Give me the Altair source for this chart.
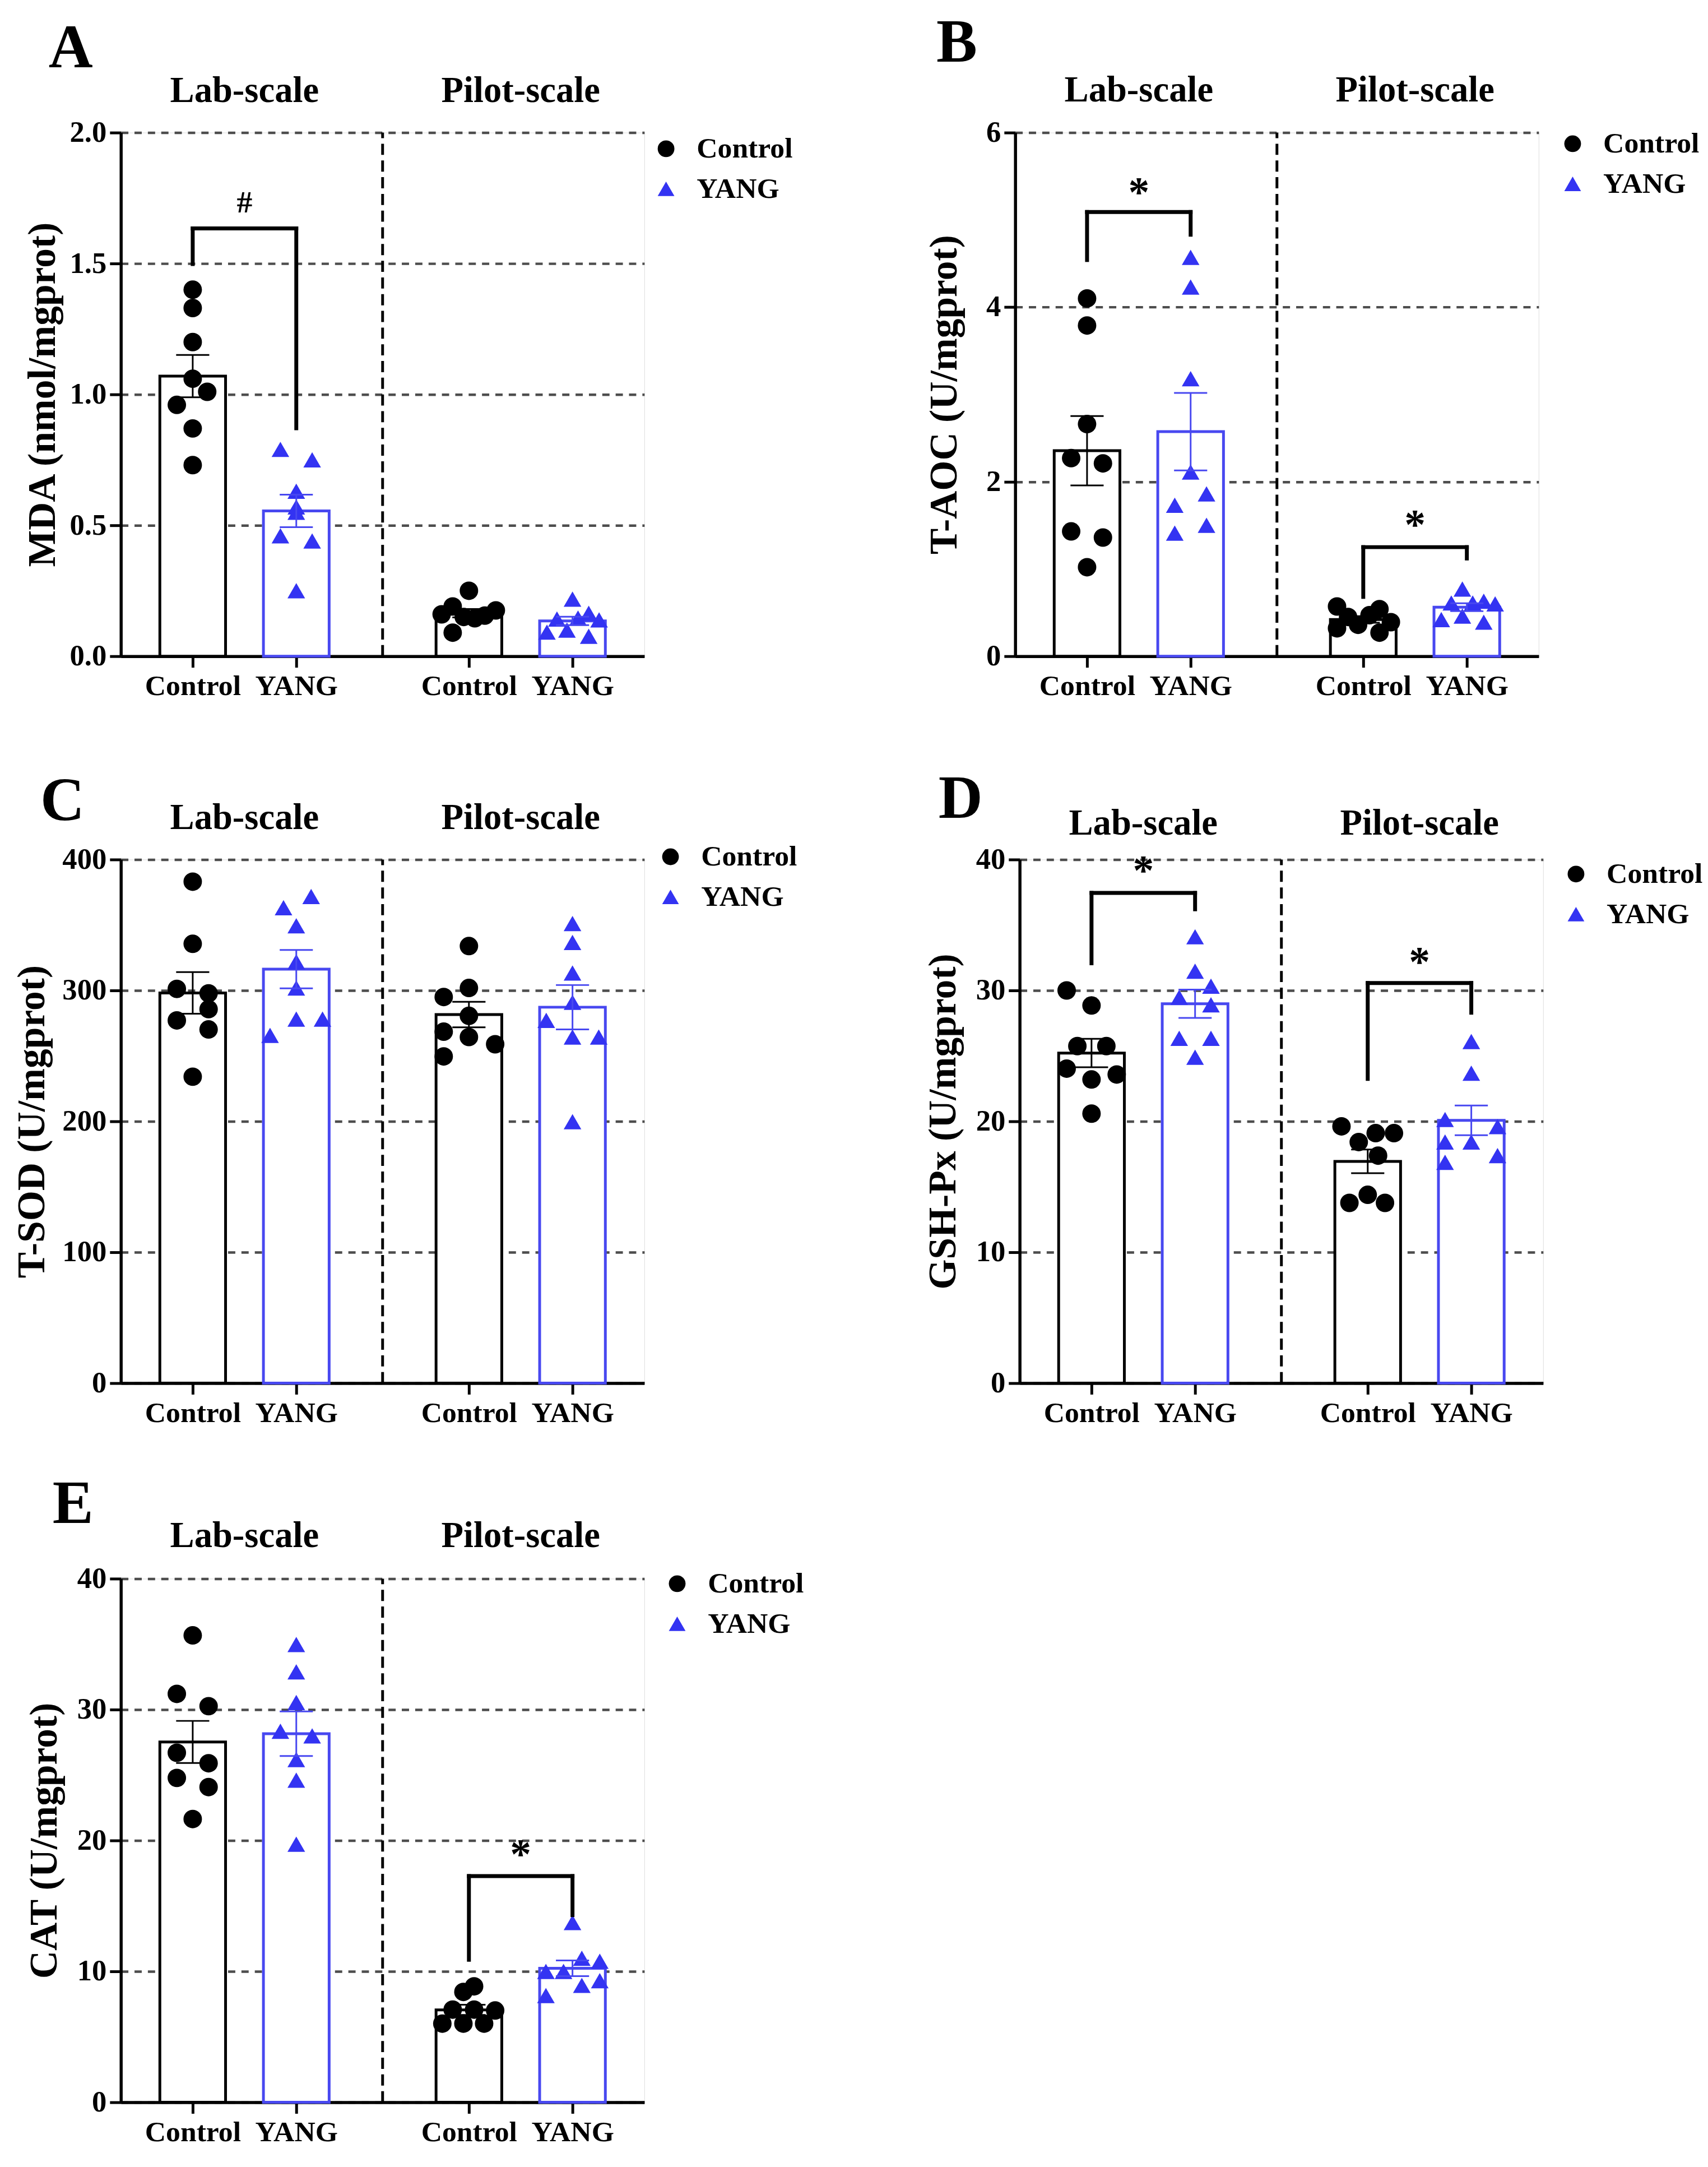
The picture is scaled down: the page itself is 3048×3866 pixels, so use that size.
import altair as alt
import pandas as pd

FONT = "Liberation Serif"
BLACK = "#000000"
BLUE_PT = "#3333f2"
BLUE_LN = "#4848f0"

GROUPS = ["Control", "YANG"]
SCALE_NAMES = ["Lab-scale", "Pilot-scale"]
POS = {"Lab-scale": {"Control": 2, "YANG": 5}, "Pilot-scale": {"Control": 10, "YANG": 13}}

# ---------------- Panel A : MDA ----------------
A_lab_ctrl = [1.40, 1.33, 1.20, 1.06, 1.01, 0.96, 0.87, 0.73]
A_lab_ctrl_dx = [0, 0, 0, 0, 0.42, -0.46, 0, 0]
A_lab_yang = [0.79, 0.75, 0.63, 0.57, 0.55, 0.46, 0.44, 0.25]
A_lab_yang_dx = [-0.46, 0.46, 0, 0, 0, -0.46, 0.46, 0]
A_pil_ctrl = [0.25, 0.19, 0.16, 0.15, 0.145, 0.155, 0.175, 0.09]
A_pil_ctrl_dx = [0, -0.47, -0.79, -0.15, 0.17, 0.46, 0.78, -0.47]
A_pil_yang = [0.218, 0.142, 0.146, 0.164, 0.139, 0.092, 0.10, 0.076]
A_pil_yang_dx = [0, -0.45, 0.16, 0.47, 0.77, -0.74, -0.16, 0.47]
A_br_x1 = [2]
A_br_x2 = [5]
A_br_top = [1.634]
A_br_left = [1.498]
A_br_right = [0.871]
A_br_label = ["#"]
A_br_label_y = [1.716]

# ---------------- Panel B : T-AOC ----------------
B_lab_ctrl = [4.10, 3.79, 2.66, 2.27, 2.21, 1.43, 1.36, 1.02]
B_lab_ctrl_dx = [0, 0, 0, -0.46, 0.46, -0.46, 0.46, 0]
B_lab_yang = [4.57, 4.23, 3.18, 2.11, 1.86, 1.73, 1.50, 1.41]
B_lab_yang_dx = [0, 0, 0, 0, 0.46, -0.46, 0.46, -0.46]
B_pil_ctrl = [0.57, 0.32, 0.45, 0.36, 0.47, 0.54, 0.27, 0.39]
B_pil_ctrl_dx = [-0.76, -0.76, -0.44, -0.15, 0.18, 0.47, 0.47, 0.80]
B_pil_yang = [0.77, 0.61, 0.61, 0.63, 0.60, 0.42, 0.46, 0.39]
B_pil_yang_dx = [-0.13, -0.45, 0.17, 0.49, 0.82, -0.74, -0.13, 0.49]
B_br_x1 = [2, 10]
B_br_x2 = [5, 13]
B_br_top = [5.09, 1.25]
B_br_left = [4.54, 0.68]
B_br_right = [4.83, 1.12]
B_br_label = ["*", "*"]
B_br_label_y = [5.32, 1.51]

# ---------------- Panel C : T-SOD ----------------
C_lab_ctrl = [383.1, 335.6, 301.2, 297.8, 277.1, 285.7, 270.2, 234.1]
C_lab_ctrl_dx = [0, 0, -0.46, 0.46, -0.46, 0.46, 0.46, 0]
C_lab_yang = [371.8, 363.2, 349.4, 321.9, 301.9, 278.1, 278.1, 265.7]
C_lab_yang_dx = [0.43, -0.37, 0, 0, 0, 0, 0.76, -0.76]
C_pil_ctrl = [333.9, 301.9, 295.0, 280.6, 268.5, 264.4, 258.9, 249.6]
C_pil_ctrl_dx = [0, 0, -0.73, 0, -0.73, 0, 0.76, -0.73]
C_pil_yang = [351.1, 336.7, 313.3, 290.9, 277.1, 264.4, 264.4, 199.7]
C_pil_yang_dx = [0, 0, 0, 0, -0.76, 0, 0.76, 0]
C_br_x1 = []
C_br_x2 = []
C_br_top = []
C_br_left = []
C_br_right = []
C_br_label = []
C_br_label_y = []

# ---------------- Panel D : GSH-Px ----------------
D_lab_ctrl = [30.0, 28.85, 25.75, 25.75, 24.03, 23.2, 23.58, 20.59]
D_lab_ctrl_dx = [-0.72, 0, -0.41, 0.43, -0.72, 0, 0.73, 0]
D_lab_yang = [34.1, 31.47, 30.33, 29.47, 28.9, 26.34, 26.34, 24.9]
D_lab_yang_dx = [0, 0, 0.46, -0.46, 0.46, -0.46, 0.46, 0]
D_pil_ctrl = [19.62, 18.42, 19.1, 19.1, 17.38, 13.77, 14.39, 13.77]
D_pil_ctrl_dx = [-0.76, -0.26, 0.23, 0.76, 0.30, -0.53, 0, 0.50]
D_pil_yang = [26.1, 23.68, 20.14, 19.6, 18.42, 18.42, 17.38, 16.87]
D_pil_yang_dx = [0, 0, -0.76, 0.76, -0.76, 0, 0.76, -0.76]
D_br_x1 = [2, 10]
D_br_x2 = [5, 13]
D_br_top = [37.45, 30.57]
D_br_left = [32.08, 23.24]
D_br_right = [36.2, 28.3]
D_br_label = ["*", "*"]
D_br_label_y = [39.2, 32.2]

# ---------------- Panel E : CAT ----------------
E_lab_ctrl = [35.67, 31.2, 30.26, 26.7, 25.9, 24.78, 24.08, 21.64]
E_lab_ctrl_dx = [0, -0.46, 0.46, -0.46, 0.46, -0.46, 0.46, 0]
E_lab_yang = [34.97, 32.88, 30.54, 28.34, 27.99, 26.18, 24.61, 19.72]
E_lab_yang_dx = [0, 0, 0, -0.46, 0.46, 0, 0, 0]
E_pil_ctrl = [8.86, 8.43, 7.08, 7.08, 7.01, 6.01, 6.01, 6.01]
E_pil_ctrl_dx = [0.15, -0.16, -0.47, 0.15, 0.76, -0.77, -0.16, 0.44]
E_pil_yang = [13.73, 11.0, 10.78, 10.0, 10.0, 9.29, 8.93, 8.15]
E_pil_yang_dx = [0, 0.27, 0.79, -0.77, -0.26, 0.79, 0.27, -0.77]
E_br_x1 = [10]
E_br_x2 = [13]
E_br_top = [17.28]
E_br_left = [10.89]
E_br_right = [14.3]
E_br_label = ["*"]
E_br_label_y = [19.0]

PANELS = {
    "A": dict(title="MDA (nmol/mgprot)", ymax=2.0, ticks=[0, 0.5, 1.0, 1.5, 2.0], fmt=".1f",
              data={("Lab-scale", "Control"): (A_lab_ctrl, A_lab_ctrl_dx),
                    ("Lab-scale", "YANG"): (A_lab_yang, A_lab_yang_dx),
                    ("Pilot-scale", "Control"): (A_pil_ctrl, A_pil_ctrl_dx),
                    ("Pilot-scale", "YANG"): (A_pil_yang, A_pil_yang_dx)},
              br=(A_br_x1, A_br_x2, A_br_top, A_br_left, A_br_right, A_br_label, A_br_label_y)),
    "B": dict(title="T-AOC (U/mgprot)", ymax=6, ticks=[0, 2, 4, 6], fmt="d",
              data={("Lab-scale", "Control"): (B_lab_ctrl, B_lab_ctrl_dx),
                    ("Lab-scale", "YANG"): (B_lab_yang, B_lab_yang_dx),
                    ("Pilot-scale", "Control"): (B_pil_ctrl, B_pil_ctrl_dx),
                    ("Pilot-scale", "YANG"): (B_pil_yang, B_pil_yang_dx)},
              br=(B_br_x1, B_br_x2, B_br_top, B_br_left, B_br_right, B_br_label, B_br_label_y)),
    "C": dict(title="T-SOD (U/mgprot)", ymax=400, ticks=[0, 100, 200, 300, 400], fmt="d",
              data={("Lab-scale", "Control"): (C_lab_ctrl, C_lab_ctrl_dx),
                    ("Lab-scale", "YANG"): (C_lab_yang, C_lab_yang_dx),
                    ("Pilot-scale", "Control"): (C_pil_ctrl, C_pil_ctrl_dx),
                    ("Pilot-scale", "YANG"): (C_pil_yang, C_pil_yang_dx)},
              br=(C_br_x1, C_br_x2, C_br_top, C_br_left, C_br_right, C_br_label, C_br_label_y)),
    "D": dict(title="GSH-Px (U/mgprot)", ymax=40, ticks=[0, 10, 20, 30, 40], fmt="d",
              data={("Lab-scale", "Control"): (D_lab_ctrl, D_lab_ctrl_dx),
                    ("Lab-scale", "YANG"): (D_lab_yang, D_lab_yang_dx),
                    ("Pilot-scale", "Control"): (D_pil_ctrl, D_pil_ctrl_dx),
                    ("Pilot-scale", "YANG"): (D_pil_yang, D_pil_yang_dx)},
              br=(D_br_x1, D_br_x2, D_br_top, D_br_left, D_br_right, D_br_label, D_br_label_y)),
    "E": dict(title="CAT (U/mgprot)", ymax=40, ticks=[0, 10, 20, 30, 40], fmt="d",
              data={("Lab-scale", "Control"): (E_lab_ctrl, E_lab_ctrl_dx),
                    ("Lab-scale", "YANG"): (E_lab_yang, E_lab_yang_dx),
                    ("Pilot-scale", "Control"): (E_pil_ctrl, E_pil_ctrl_dx),
                    ("Pilot-scale", "YANG"): (E_pil_yang, E_pil_yang_dx)},
              br=(E_br_x1, E_br_x2, E_br_top, E_br_left, E_br_right, E_br_label, E_br_label_y)),
}

# layout / style per panel (pixels, relative to plot area)
W, H = 940, 940
LAYOUT = {
    "A": dict(letter=(-90, -150), gtitle_y=-75, title_pad=12, legend=(953, 3)),
    "B": dict(letter=(-105, -160), gtitle_y=-76, title_pad=38, legend=(975, -6)),
    "C": dict(letter=(-105, -104), gtitle_y=-75, title_pad=18, legend=(961, -31)),
    "D": dict(letter=(-106, -108), gtitle_y=-65, title_pad=22, legend=(973, 0)),
    "E": dict(letter=(-86, -133), gtitle_y=-77, title_pad=22, legend=(973, -17)),
}


def make_panel(key):
    p = PANELS[key]
    lay = LAYOUT[key]
    rows = []
    for sname in SCALE_NAMES:
        for g in GROUPS:
            vals, dxs = p["data"][(sname, g)]
            for v, d in zip(vals, dxs):
                rows.append({"scale": sname, "group": g, "value": v, "dx": d,
                             "pos": POS[sname][g]})
    df = pd.DataFrame(rows)

    xs = alt.Scale(domain=[0, 15], nice=False, zero=False)
    ys = alt.Scale(domain=[0, p["ymax"]], nice=False, zero=True)
    x_axis = alt.Axis(values=[2, 5, 10, 13],
                      labelExpr="(datum.value == 2 || datum.value == 10) ? 'Control' : 'YANG'",
                      title=None, grid=False, labelFont=FONT, labelFontSize=52,
                      labelFontWeight="bold", labelColor="black", labelAngle=0,
                      labelOverlap=False, labelFlush=False,
                      domainColor="black", domainWidth=5.5, tickColor="black",
                      tickWidth=5, tickSize=20, labelPadding=8)
    y_axis = alt.Axis(values=p["ticks"], format=p["fmt"], title=p["title"], grid=True,
                      gridDash=[13, 11], gridColor="#4d4d4d", gridWidth=4.5,
                      labelFont=FONT, labelFontSize=53, labelFontWeight="bold",
                      labelColor="black", labelPadding=6, titleFont=FONT,
                      titleFontSize=70, titleFontWeight="bold", titleColor="black",
                      titlePadding=lay["title_pad"], domainColor="black", domainWidth=5.5,
                      tickColor="black", tickWidth=5, tickSize=20)

    line_cond = alt.condition("datum.group == 'Control'", alt.value(BLACK), alt.value(BLUE_LN))
    base = alt.Chart(df)

    bars = base.mark_bar(size=118, fill="white", strokeWidth=5).encode(
        x=alt.X("pos:Q", scale=xs, axis=x_axis),
        y=alt.Y("mean(value):Q", scale=ys, axis=y_axis, stack=None),
        stroke=line_cond,
        detail="group:N",
    )

    leg = alt.Legend(title=None, orient="none", legendX=lay["legend"][0],
                     legendY=lay["legend"][1], labelFont=FONT, labelFontSize=52,
                     labelFontWeight="bold", labelColor="black", symbolSize=900,
                     labelOffset=29, rowPadding=20, padding=0, symbolStrokeWidth=0,
                     labelLimit=500)
    pts = base.transform_calculate(xp="datum.pos + datum.dx").mark_point(
        filled=True, opacity=1, strokeWidth=0
    ).encode(
        x=alt.X("xp:Q"),
        y=alt.Y("value:Q"),
        color=alt.Color("group:N", scale=alt.Scale(domain=GROUPS, range=[BLACK, BLUE_PT]), legend=leg),
        shape=alt.Shape("group:N", scale=alt.Scale(domain=GROUPS, range=["circle", "triangle-up"]), legend=leg),
        size=alt.condition("datum.group == 'Control'", alt.value(1100), alt.value(1000)),
    )

    agg = base.transform_aggregate(
        m="mean(value)", se="stderr(value)", groupby=["pos", "group"]
    ).transform_calculate(
        lo="datum.m - datum.se", hi="datum.m + datum.se",
        xl="datum.pos - 0.48", xr="datum.pos + 0.48"
    )
    e_v = agg.mark_rule(strokeWidth=3).encode(x="pos:Q", y="lo:Q", y2="hi:Q", color=line_cond)
    e_lo = agg.mark_rule(strokeWidth=3).encode(x="xl:Q", x2="xr:Q", y="lo:Q", color=line_cond)
    e_hi = agg.mark_rule(strokeWidth=3).encode(x="xl:Q", x2="xr:Q", y="hi:Q", color=line_cond)

    sep_x = (POS["Lab-scale"]["YANG"] + POS["Pilot-scale"]["Control"]) / 2
    sep = alt.Chart(pd.DataFrame({"x": [sep_x], "y0": [0.0], "y1": [float(p["ymax"])]})).mark_rule(
        color="black", strokeWidth=5, strokeDash=[20, 10]
    ).encode(x="x:Q", y="y0:Q", y2="y1:Q")

    gt = pd.DataFrame({
        "x": [(POS[s]["Control"] + POS[s]["YANG"]) / 2 for s in SCALE_NAMES],
        "t": SCALE_NAMES,
    })
    gtitles = alt.Chart(gt).mark_text(font=FONT, fontSize=65, fontWeight="bold",
                                      color="black", baseline="middle").encode(
        x="x:Q", y=alt.value(lay["gtitle_y"]), text="t:N")

    letter = alt.Chart(pd.DataFrame({"t": [key]})).mark_text(
        font=FONT, fontSize=110, fontWeight="bold", color="black", baseline="middle"
    ).encode(x=alt.value(lay["letter"][0]), y=alt.value(lay["letter"][1]), text="t:N")

    layers = [bars, pts, e_v, e_lo, e_hi, sep]

    x1, x2, top, lb, rb, lab, laby = p["br"]
    if len(x1):
        bdf = pd.DataFrame({"x1": x1, "x2": x2, "top": top, "lb": lb, "rb": rb,
                            "lab": lab, "ly": laby})
        bdf["xm"] = (bdf["x1"] + bdf["x2"]) / 2
        bb = alt.Chart(bdf)
        rule_kw = dict(color="black", strokeWidth=7, strokeCap="square")
        layers.append(bb.mark_rule(**rule_kw).encode(x="x1:Q", x2="x2:Q", y="top:Q"))
        layers.append(bb.mark_rule(**rule_kw).encode(x="x1:Q", y="lb:Q", y2="top:Q"))
        layers.append(bb.mark_rule(**rule_kw).encode(x="x2:Q", y="rb:Q", y2="top:Q"))
        layers.append(bb.transform_filter("datum.lab == '*'").mark_text(
            font=FONT, fontSize=76, fontWeight="bold", color="black", baseline="middle", dy=3
        ).encode(x="xm:Q", y="ly:Q", text="lab:N"))
        layers.append(bb.transform_filter("datum.lab != '*'").mark_text(
            font=FONT, fontSize=56, fontWeight="bold", color="black", baseline="middle", dy=-7
        ).encode(x="xm:Q", y="ly:Q", text="lab:N"))

    layers += [gtitles, letter]
    return alt.layer(*layers).properties(width=W, height=H)


ind = dict(color="independent", shape="independent")
row1 = alt.hconcat(make_panel("A"), make_panel("B"), spacing=236).resolve_scale(**ind).resolve_legend(**ind)
row2 = alt.hconcat(make_panel("C"), make_panel("D"), spacing=225).resolve_scale(**ind).resolve_legend(**ind)
lower = alt.vconcat(row2, make_panel("E"), spacing=82).resolve_scale(**ind).resolve_legend(**ind)
chart = alt.vconcat(row1, lower, spacing=121).resolve_scale(**ind).resolve_legend(**ind).properties(
    padding={"left": 14, "top": 2, "right": 0, "bottom": 0}
).configure_view(stroke=None).configure(background="white")

chart.save("out.html", embed_options={"renderer": "svg", "actions": False})
